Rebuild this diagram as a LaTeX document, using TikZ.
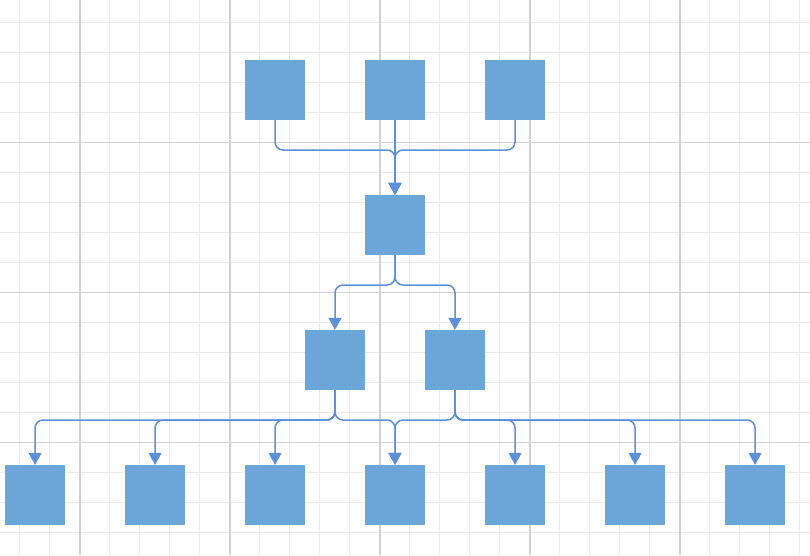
\documentclass[tikz,border=0pt]{standalone}
\usetikzlibrary{arrows.meta}
\definecolor{boxfill}{HTML}{6CA6D8}
\definecolor{linec}{HTML}{5E90DA}
\definecolor{minorc}{HTML}{EBEBEB}
\definecolor{majorc}{HTML}{D2D2D2}
\tikzset{
  box/.style={rectangle, fill=boxfill, draw=none, minimum width=60pt, minimum height=60pt, inner sep=0pt},
  conn/.style={draw=linec, line width=1.5pt, rounded corners=8pt, -{Triangle[width=13pt,length=12pt]}},
  minorline/.style={draw=minorc, line width=1pt},
  majorline/.style={draw=majorc, line width=1.8pt}
}
\begin{document}
\begin{tikzpicture}[x=1pt,y=-1pt]
\fill[white] (0,0) rectangle (810,555);
\useasboundingbox (0,0) rectangle (810,555);
% grid
\foreach \i in {0,...,26} { \draw[minorline] ({19.5+30*\i},0) -- ({19.5+30*\i},555); }
\foreach \j in {0,...,17} { \draw[minorline] (0,{22.5+30*\j}) -- (810,{22.5+30*\j}); }
\foreach \x in {80,230,380,530,680} { \draw[majorline] (\x,0) -- (\x,555); }
\foreach \y in {142.5,292.5,442.5} { \draw[majorline] (0,\y) -- (810,\y); }
% nodes
\node[box] (t1) at (275,90) {};
\node[box] (t2) at (395,90) {};
\node[box] (t3) at (515,90) {};
\node[box] (m) at (395,225) {};
\node[box] (l1) at (335,360) {};
\node[box] (l2) at (455,360) {};
\node[box] (b1) at (35,495) {};
\node[box] (b2) at (155,495) {};
\node[box] (b3) at (275,495) {};
\node[box] (b4) at (395,495) {};
\node[box] (b5) at (515,495) {};
\node[box] (b6) at (635,495) {};
\node[box] (b7) at (755,495) {};
% connectors
\draw[conn] (t1.south) -- (t1.south |- 0,150) -| (m.north);
\draw[conn] (t3.south) -- (t3.south |- 0,150) -| (m.north);
\draw[conn] (t2.south) -- (m.north);
\draw[conn] (m.south) -- (m.south |- 0,285) -| (l1.north);
\draw[conn] (m.south) -- (m.south |- 0,285) -| (l2.north);
\foreach \b in {b1,b2,b3,b4} {
  \draw[conn] (l1.south) -- (l1.south |- 0,420) -| (\b.north);
}
\foreach \b in {b4,b5,b6,b7} {
  \draw[conn] (l2.south) -- (l2.south |- 0,420) -| (\b.north);
}
\end{tikzpicture}
\end{document}
